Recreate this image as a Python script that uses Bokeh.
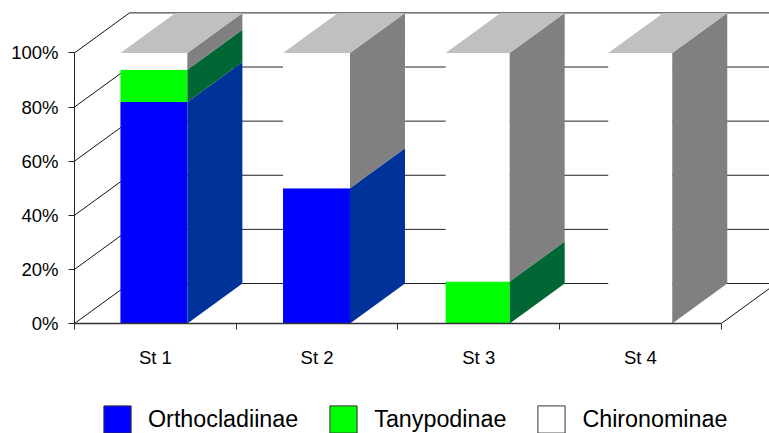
from bokeh.plotting import figure
from bokeh.layouts import column
from bokeh.models import Range1d, LinearAxis, FixedTicker, Legend, LegendItem
from bokeh.embed import file_html
from bokeh.resources import INLINE

stations = ["St 1", "St 2", "St 3", "St 4"]
orthocladiinae = [81.9, 50.0, 0.0, 0.0]
tanypodinae = [11.9, 0.0, 15.5, 0.0]
chironominae = [6.2, 50.0, 84.5, 100.0]
y_ticks = [0, 20, 40, 60, 80, 100]
y_tick_labels = ["0%", "20%", "40%", "60%", "80%", "100%"]

FONT = "Liberation Sans"
PX_X, PX_Y = 161.7, 2.706          # pixels per category / per percent
DX, DY = 55 / PX_X, 40 / PX_Y      # depth of the 3-D box in data units
BAR_START, BAR_STEP = 0.284, 1.0056
BAR_W = [0.414, 0.414, 0.396, 0.396]
W, H, LEFT, BOTTOM = 769, 395, 74, 72
LEGEND_H = 38
n = len(stations)

p = figure(width=W, height=H, output_backend="svg", toolbar_location=None,
           x_axis_type=None, y_axis_type=None,
           x_range=Range1d(0, (W - LEFT) / PX_X),
           y_range=Range1d(0, (H - BOTTOM) / PX_Y),
           min_border_left=LEFT, min_border_right=0, min_border_top=0,
           min_border_bottom=BOTTOM, outline_line_color=None,
           background_fill_color="white", border_fill_color="white")
p.xgrid.visible = False
p.ygrid.visible = False

yaxis = LinearAxis(ticker=FixedTicker(ticks=y_ticks), bounds=(0, 100),
                   major_label_overrides=dict(zip(y_ticks, y_tick_labels)),
                   major_tick_in=0, major_tick_out=6, minor_tick_out=0, minor_tick_in=0,
                   major_label_standoff=10, major_label_text_font=FONT,
                   major_label_text_font_size="18.5px", major_label_text_color="black",
                   axis_line_color="#222222", major_tick_line_color="#222222")
p.add_layout(yaxis, "left")

mids = [i + 0.5 for i in range(n)]
xaxis = LinearAxis(ticker=FixedTicker(ticks=mids, minor_ticks=list(range(n + 1))),
                   bounds=(0, n),
                   major_label_overrides=dict(zip(mids, stations)),
                   major_tick_in=0, major_tick_out=0, minor_tick_in=0, minor_tick_out=6,
                   major_label_standoff=17, major_label_text_font=FONT,
                   major_label_text_font_size="18.5px", major_label_text_color="black",
                   axis_line_color="#333333", axis_line_width=1.5,
                   minor_tick_line_color="#333333")
p.add_layout(xaxis, "below")

p.segment(x0=[DX] * 6, x1=[n + DX] * 6, y0=[v + DY for v in y_ticks],
          y1=[v + DY for v in y_ticks], line_color="#222222", line_width=1)
p.segment(x0=[0] * 6, x1=[DX] * 6, y0=y_ticks, y1=[v + DY for v in y_ticks],
          line_color="#111111", line_width=1)
p.segment(x0=[n], x1=[n + DX], y0=[0], y1=[DY], line_color="#111111", line_width=1)

series = [(orthocladiinae, "#0000ff", "#003399"),
          (tanypodinae, "#00ff00", "#006633"),
          (chironominae, "#ffffff", "#808080")]
for i in range(n):
    x0 = BAR_START + BAR_STEP * i
    x1 = x0 + BAR_W[i]
    base = 0.0
    for values, front, side in series:
        v = values[i]
        if v > 0:
            p.quad(left=[x0], right=[x1], bottom=[base], top=[base + v],
                   fill_color=front, line_color=None)
            p.patch(x=[x1, x1 + DX, x1 + DX, x1],
                    y=[base, base + DY, base + v + DY, base + v],
                    fill_color=side, line_color=None)
        base += v
    p.patch(x=[x0, x1, x1 + DX, x0 + DX], y=[base, base, base + DY, base + DY],
            fill_color="#c0c0c0", line_color=None)

# legend-only strip under the chart; its swatch quads lie outside the visible range
names = ["Orthocladiinae", "Tanypodinae", "Chironominae"]
lf = figure(width=W, height=LEGEND_H, output_backend="svg", toolbar_location=None,
            x_axis_type=None, y_axis_type=None, x_range=Range1d(0, 1), y_range=Range1d(0, 1),
            min_border=0, outline_line_color=None)
lf.xgrid.visible = False
lf.ygrid.visible = False
items = []
for name, (_, front, _) in zip(names, series):
    r = lf.quad(left=[2], right=[3], bottom=[2], top=[3], fill_color=front, line_color="#333333")
    items.append(LegendItem(label=name, renderers=[r]))
legend = Legend(items=items, orientation="horizontal", location=(26, -3),
                glyph_width=34, glyph_height=34, label_standoff=14, spacing=28,
                padding=0, margin=0, border_line_color=None, background_fill_alpha=0,
                label_text_font=FONT, label_text_font_size="23.3px", label_text_color="black",
                label_height=34)
lf.add_layout(legend)

layout = column(p, lf, spacing=0)
open("out.html", "w").write(file_html(layout, INLINE))
